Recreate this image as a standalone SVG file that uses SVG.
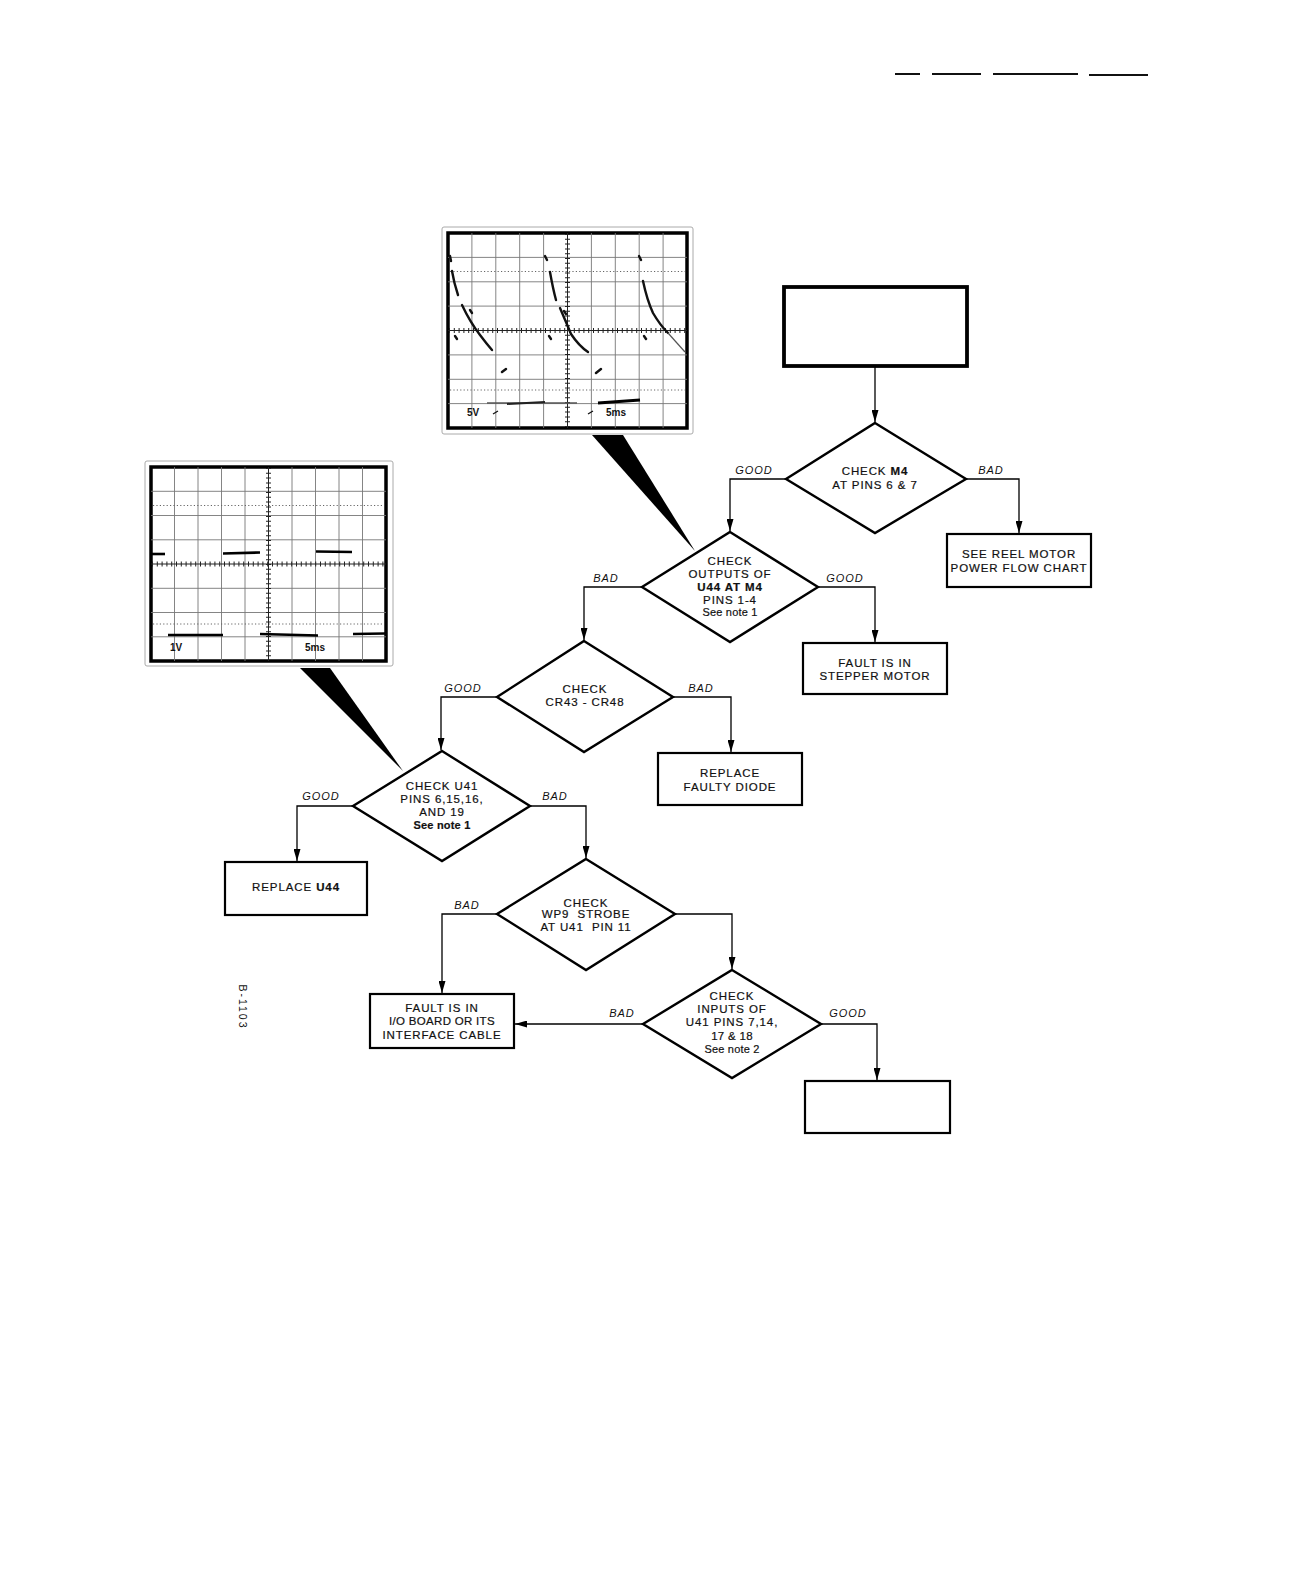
<svg xmlns="http://www.w3.org/2000/svg" width="1292" height="1571" viewBox="0 0 1292 1571">
<defs>
<marker id="ah" viewBox="0 0 12 7" refX="12" refY="3.5" markerWidth="12" markerHeight="7" markerUnits="userSpaceOnUse" orient="auto">
<path d="M0,0 L12,3.5 L0,7 Z" fill="#000"/>
</marker>
</defs>
<style>
.bg{fill:#fff}
.dia{fill:none;stroke:#000;stroke-width:2.4;stroke-linejoin:miter}
.box{fill:none;stroke:#000;stroke-width:2.2}
.con{fill:none;stroke:#000;stroke-width:1.3}
.t{font-family:"Liberation Sans",Arial,sans-serif;font-size:11.5px;letter-spacing:0.9px;text-anchor:middle;fill:#111;stroke:#111;stroke-width:0.2}
.tb{font-weight:bold}
.n{font-family:"Liberation Sans",Arial,sans-serif;font-size:11px;letter-spacing:0.2px;text-anchor:middle;fill:#111;stroke:#111;stroke-width:0.2}
.lab{font-family:"Liberation Sans",Arial,sans-serif;font-size:11px;font-style:italic;letter-spacing:1px;text-anchor:middle;fill:#111}
.sf{fill:#fff;stroke:#aaa;stroke-width:1}
.sc{fill:#fff;stroke:#000;stroke-width:3.5}
.g{stroke:#777;stroke-width:0.9;fill:none}
.d{stroke:#666;stroke-width:1;stroke-dasharray:1.2 2.2;fill:none}
.ax{stroke:#222;stroke-width:1;fill:none}
.tk{stroke:#222;stroke-width:5;stroke-dasharray:1 3.8;fill:none}
.tr{stroke:#111;stroke-width:2.4;fill:none;stroke-linecap:round}
.sl{font-family:"Liberation Sans",Arial,sans-serif;font-size:10px;font-weight:bold;fill:#111}
</style>
<rect class="bg" x="0" y="0" width="1292" height="1571"/>

<!-- header rules -->
<g id="header" stroke="#111" stroke-width="2">
<line x1="895" y1="74" x2="920" y2="74"/>
<line x1="932" y1="74" x2="981" y2="74"/>
<line x1="993" y1="74" x2="1078" y2="74"/>
<line x1="1089" y1="75" x2="1148" y2="75"/>
</g>

<!-- Scope 1 -->
<g id="scope1">
<rect class="sf" x="442" y="227" width="251" height="207" rx="2"/>
<rect class="sc" x="448" y="233" width="239" height="195"/>
<g class="g">
<line x1="471.9" y1="233" x2="471.9" y2="428"/><line x1="495.8" y1="233" x2="495.8" y2="428"/>
<line x1="519.7" y1="233" x2="519.7" y2="428"/><line x1="543.6" y1="233" x2="543.6" y2="428"/>
<line x1="591.4" y1="233" x2="591.4" y2="428"/><line x1="615.3" y1="233" x2="615.3" y2="428"/>
<line x1="639.2" y1="233" x2="639.2" y2="428"/><line x1="663.1" y1="233" x2="663.1" y2="428"/>
<line x1="448" y1="257.4" x2="687" y2="257.4"/><line x1="448" y1="281.8" x2="687" y2="281.8"/>
<line x1="448" y1="306.1" x2="687" y2="306.1"/><line x1="448" y1="354.9" x2="687" y2="354.9"/>
<line x1="448" y1="379.3" x2="687" y2="379.3"/><line x1="448" y1="403.6" x2="687" y2="403.6"/>
</g>
<line class="d" x1="450" y1="271.5" x2="685" y2="271.5"/>
<line class="d" x1="450" y1="390" x2="685" y2="390"/>
<line class="ax" x1="448" y1="330.5" x2="687" y2="330.5"/>
<line class="ax" x1="567.5" y1="233" x2="567.5" y2="428"/>
<line class="tk" x1="449" y1="330.5" x2="686" y2="330.5"/>
<line class="tk" x1="567.5" y1="234" x2="567.5" y2="427"/>
<path class="tr" d="M450,256 L451,261 M452,271 Q454,283 458,295 M462,305 Q470,322 480,335 Q486,343 492,350"/>
<path class="tr" d="M470,310 L472,313 M455,336 L457,339"/>
<path class="tr" d="M545,256 L547,260 M550,272 Q553,289 556,300 M560,308 Q566,322 571,334 Q579,346 588,352"/>
<path class="tr" d="M564,311 L566,314 M549,336 L551,339"/>
<path class="tr" d="M639,256 L641,260 M643,281 Q647,300 653,313 Q660,325 668,333"/>
<path d="M668,333 L685,352" stroke="#555" stroke-width="1.2" fill="none"/>
<path class="tr" d="M644,336 L646,339"/>
<path class="tr" d="M502,372 L506,369 M596,373 L601,369"/>
<line x1="487" y1="403" x2="577" y2="403" stroke="#555" stroke-width="1.6"/>
<line x1="507" y1="404" x2="545" y2="402" stroke="#222" stroke-width="2"/>
<line x1="598" y1="403" x2="640" y2="400" stroke="#000" stroke-width="3.2"/>
<path d="M493,414 L498,411 M588,414 L593,411" stroke="#111" stroke-width="1.3"/>
<text class="sl" x="467" y="416">5V</text>
<text class="sl" x="606" y="416">5ms</text>
<polygon points="592,435 623,435 695,551" fill="#000"/>
</g>

<!-- Scope 2 -->
<g id="scope2">
<rect class="sf" x="145" y="461" width="248" height="205" rx="2"/>
<rect class="sc" x="151" y="467" width="235" height="194"/>
<g class="g">
<line x1="174.5" y1="467" x2="174.5" y2="661"/><line x1="198" y1="467" x2="198" y2="661"/>
<line x1="221.5" y1="467" x2="221.5" y2="661"/><line x1="245" y1="467" x2="245" y2="661"/>
<line x1="292" y1="467" x2="292" y2="661"/><line x1="315.5" y1="467" x2="315.5" y2="661"/>
<line x1="339" y1="467" x2="339" y2="661"/><line x1="362.5" y1="467" x2="362.5" y2="661"/>
<line x1="151" y1="491.3" x2="386" y2="491.3"/><line x1="151" y1="515.5" x2="386" y2="515.5"/>
<line x1="151" y1="539.8" x2="386" y2="539.8"/><line x1="151" y1="588.3" x2="386" y2="588.3"/>
<line x1="151" y1="612.5" x2="386" y2="612.5"/><line x1="151" y1="636.8" x2="386" y2="636.8"/>
</g>
<line class="d" x1="153" y1="505.5" x2="384" y2="505.5"/>
<line class="d" x1="153" y1="624" x2="384" y2="624"/>
<line class="ax" x1="151" y1="564" x2="386" y2="564"/>
<line class="ax" x1="268.5" y1="467" x2="268.5" y2="661"/>
<line class="tk" x1="152" y1="564" x2="385" y2="564"/>
<line class="tk" x1="268.5" y1="468" x2="268.5" y2="660"/>
<g stroke="#000" stroke-width="2.6" fill="none">
<line x1="152" y1="554" x2="165" y2="554"/>
<line x1="223" y1="553.5" x2="260" y2="552.5"/>
<line x1="316" y1="551.5" x2="352" y2="552"/>
<line x1="168" y1="635" x2="223" y2="635"/>
<line x1="260" y1="634" x2="318" y2="635.5"/>
<line x1="353" y1="634" x2="385" y2="633.5"/>
</g>
<text class="sl" x="170" y="651">1V</text>
<text class="sl" x="305" y="651">5ms</text>
<polygon points="300,668 330,668 403,771" fill="#000"/>
</g>

<!-- Nodes -->
<g id="start">
<rect x="784" y="287" width="183" height="79" fill="none" stroke="#000" stroke-width="3.8"/>
</g>

<g id="d1">
<polygon class="dia" points="875,423 966,479 875,533 786,479"/>
<text class="t" x="875" y="475">CHECK <tspan class="tb">M4</tspan></text>
<text class="t" x="875" y="489">AT PINS 6 &amp; 7</text>
</g>

<g id="reel">
<rect class="box" x="947" y="534" width="144" height="53"/>
<text class="t" x="1019" y="558">SEE REEL MOTOR</text>
<text class="t" x="1019" y="572">POWER FLOW CHART</text>
</g>

<g id="d2">
<polygon class="dia" points="730,532 818,587 730,642 642,587"/>
<text class="t" x="730" y="565">CHECK</text>
<text class="t" x="730" y="578">OUTPUTS OF</text>
<text class="t tb" x="730" y="591">U44 AT M4</text>
<text class="t" x="730" y="604">PINS 1-4</text>
<text class="n" x="730" y="616">See note 1</text>
</g>

<g id="stepper">
<rect class="box" x="803" y="643" width="144" height="51"/>
<text class="t" x="875" y="667">FAULT IS IN</text>
<text class="t" x="875" y="680">STEPPER MOTOR</text>
</g>

<g id="d3">
<polygon class="dia" points="584,641 673,697 584,752 497,697"/>
<text class="t" x="585" y="693">CHECK</text>
<text class="t" x="585" y="706">CR43 - CR48</text>
</g>

<g id="diode">
<rect class="box" x="658" y="753" width="144" height="52"/>
<text class="t" x="730" y="777">REPLACE</text>
<text class="t" x="730" y="791">FAULTY DIODE</text>
</g>

<g id="d4">
<polygon class="dia" points="442,751 530,806 442,861 353,806"/>
<text class="t" x="442" y="790">CHECK U41</text>
<text class="t" x="442" y="803">PINS 6,15,16,</text>
<text class="t" x="442" y="816">AND 19</text>
<text class="n tb" x="442" y="829">See note 1</text>
</g>

<g id="u44">
<rect class="box" x="225" y="862" width="142" height="53"/>
<text class="t" x="296" y="891">REPLACE <tspan class="tb">U44</tspan></text>
</g>

<g id="d5">
<polygon class="dia" points="586,859 675,914 586,970 497,914"/>
<text class="t" x="586" y="907">CHECK</text>
<text class="t" x="586" y="918" xml:space="preserve">WP9  STROBE</text>
<text class="t" x="586" y="931" xml:space="preserve">AT U41  PIN 11</text>
</g>

<g id="io">
<rect class="box" x="370" y="994" width="144" height="54"/>
<text class="t" x="442" y="1012">FAULT IS IN</text>
<text class="t" x="442" y="1025" style="letter-spacing:0.3px">I/O BOARD OR ITS</text>
<text class="t" x="442" y="1039">INTERFACE CABLE</text>
</g>

<g id="d6">
<polygon class="dia" points="732,970 821,1024 732,1078 643,1024"/>
<text class="t" x="732" y="1000">CHECK</text>
<text class="t" x="732" y="1013">INPUTS OF</text>
<text class="t" x="732" y="1026">U41 PINS 7,14,</text>
<text class="t" x="732" y="1040" style="letter-spacing:0.3px">17 &amp; 18</text>
<text class="n" x="732" y="1053">See note 2</text>
</g>

<g id="end">
<rect class="box" x="805" y="1081" width="145" height="52"/>
</g>

<!-- Connectors -->
<g id="connectors">
<path class="con" d="M875,366 L875,422" marker-end="url(#ah)"/>
<path class="con" d="M786,479 L730,479 L730,531" marker-end="url(#ah)"/>
<path class="con" d="M966,479 L1019,479 L1019,533" marker-end="url(#ah)"/>
<path class="con" d="M642,587 L584,587 L584,640" marker-end="url(#ah)"/>
<path class="con" d="M818,587 L875,587 L875,642" marker-end="url(#ah)"/>
<path class="con" d="M497,697 L441,697 L441,750" marker-end="url(#ah)"/>
<path class="con" d="M673,697 L731,697 L731,752" marker-end="url(#ah)"/>
<path class="con" d="M353,806 L297,806 L297,861" marker-end="url(#ah)"/>
<path class="con" d="M530,806 L586,806 L586,858" marker-end="url(#ah)"/>
<path class="con" d="M497,914 L442,914 L442,993" marker-end="url(#ah)"/>
<path class="con" d="M675,914 L732,914 L732,969" marker-end="url(#ah)"/>
<path class="con" d="M643,1024 L515,1024" marker-end="url(#ah)"/>
<path class="con" d="M821,1024 L877,1024 L877,1080" marker-end="url(#ah)"/>
<text class="lab" x="754" y="474">GOOD</text>
<text class="lab" x="991" y="474">BAD</text>
<text class="lab" x="606" y="582">BAD</text>
<text class="lab" x="845" y="582">GOOD</text>
<text class="lab" x="463" y="692">GOOD</text>
<text class="lab" x="701" y="692">BAD</text>
<text class="lab" x="321" y="800">GOOD</text>
<text class="lab" x="555" y="800">BAD</text>
<text class="lab" x="467" y="909">BAD</text>
<text class="lab" x="622" y="1017">BAD</text>
<text class="lab" x="848" y="1017">GOOD</text>
</g>

<text class="sl" x="239" y="1007" style="font-weight:normal;font-size:10.5px;letter-spacing:2px;text-anchor:middle" transform="rotate(90 239 1007)">B-1103</text>
</svg>
